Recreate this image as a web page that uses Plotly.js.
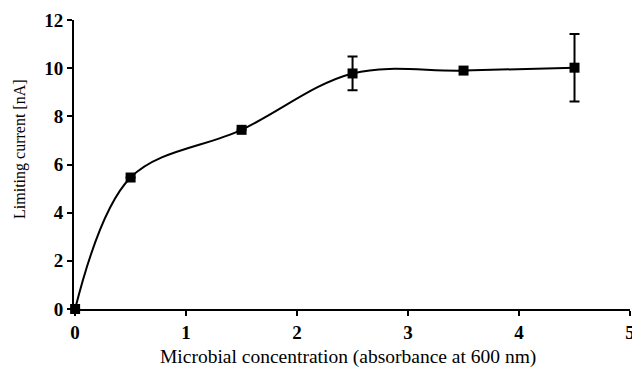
<!DOCTYPE html>
<html>
<head>
<meta charset="utf-8">
<script src="https://cdn.plot.ly/plotly-3.0.1.min.js"></script>
<style>html,body{margin:0;padding:0;background:#fff;overflow:hidden;}#chart{width:632px;height:368px;}</style>
</head>
<body>
<div id="chart"></div>
<script>
const concentration = [0, 0.5, 1.5, 2.5, 3.5, 4.5];
const current = [0, 5.46, 7.44, 9.78, 9.9, 10.02];
const errorValues = [0, 0, 0, 0.7, 0, 1.4];
const xTicks = [0, 1, 2, 3, 4, 5];
const yTicks = [0, 2, 4, 6, 8, 10, 12];
const xTitle = 'Microbial concentration (absorbance at 600 nm)';
const yTitle = 'Limiting current [nA]';

const trace = {
  x: concentration,
  y: current,
  type: 'scatter',
  mode: 'lines+markers',
  line: {shape: 'spline', smoothing: 1.0, color: '#000', width: 2},
  marker: {symbol: 'square', size: 10, color: '#000'},
  error_y: {type: 'data', array: errorValues, visible: true, color: '#000', thickness: 2, width: 5},
  cliponaxis: false,
  showlegend: false
};

const ff = 'Times New Roman, Liberation Serif, Times, serif';
const layout = {
  width: 632, height: 368,
  margin: {l: 74, r: 2, t: 20, b: 59},
  paper_bgcolor: '#fff', plot_bgcolor: '#fff',
  font: {family: ff, color: '#000'},
  xaxis: {
    range: [-0.01, 5], tickvals: xTicks, ticktext: xTicks.map(String),
    showgrid: false, zeroline: false, showline: true, linecolor: '#000', linewidth: 2,
    ticks: 'outside', ticklen: 5, tickwidth: 2, tickcolor: '#000',
    ticklabeloverflow: 'allow',
    tickfont: {family: ff, size: 19, weight: 'bold', color: '#000'}
  },
  yaxis: {
    range: [0, 12], tickvals: yTicks, ticktext: yTicks.map(String),
    showgrid: false, zeroline: false, showline: true, linecolor: '#000', linewidth: 2,
    ticks: 'outside', ticklen: 5, tickwidth: 2, tickcolor: '#000',
    tickfont: {family: ff, size: 19, weight: 'bold', color: '#000'}
  },
  annotations: [
    {text: xTitle, xref: 'paper', yref: 'paper', x: 0.493, y: -0.166, xanchor: 'center', yanchor: 'middle',
     showarrow: false, font: {family: ff, size: 19.5, color: '#000'}},
    {text: yTitle, xref: 'paper', yref: 'paper', x: -0.097, y: 0.554, xanchor: 'center', yanchor: 'middle',
     textangle: -90, showarrow: false, font: {family: ff, size: 16, color: '#000'}}
  ]
};

Plotly.newPlot('chart', [trace], layout, {displayModeBar: false, staticPlot: true});
</script>
</body>
</html>
